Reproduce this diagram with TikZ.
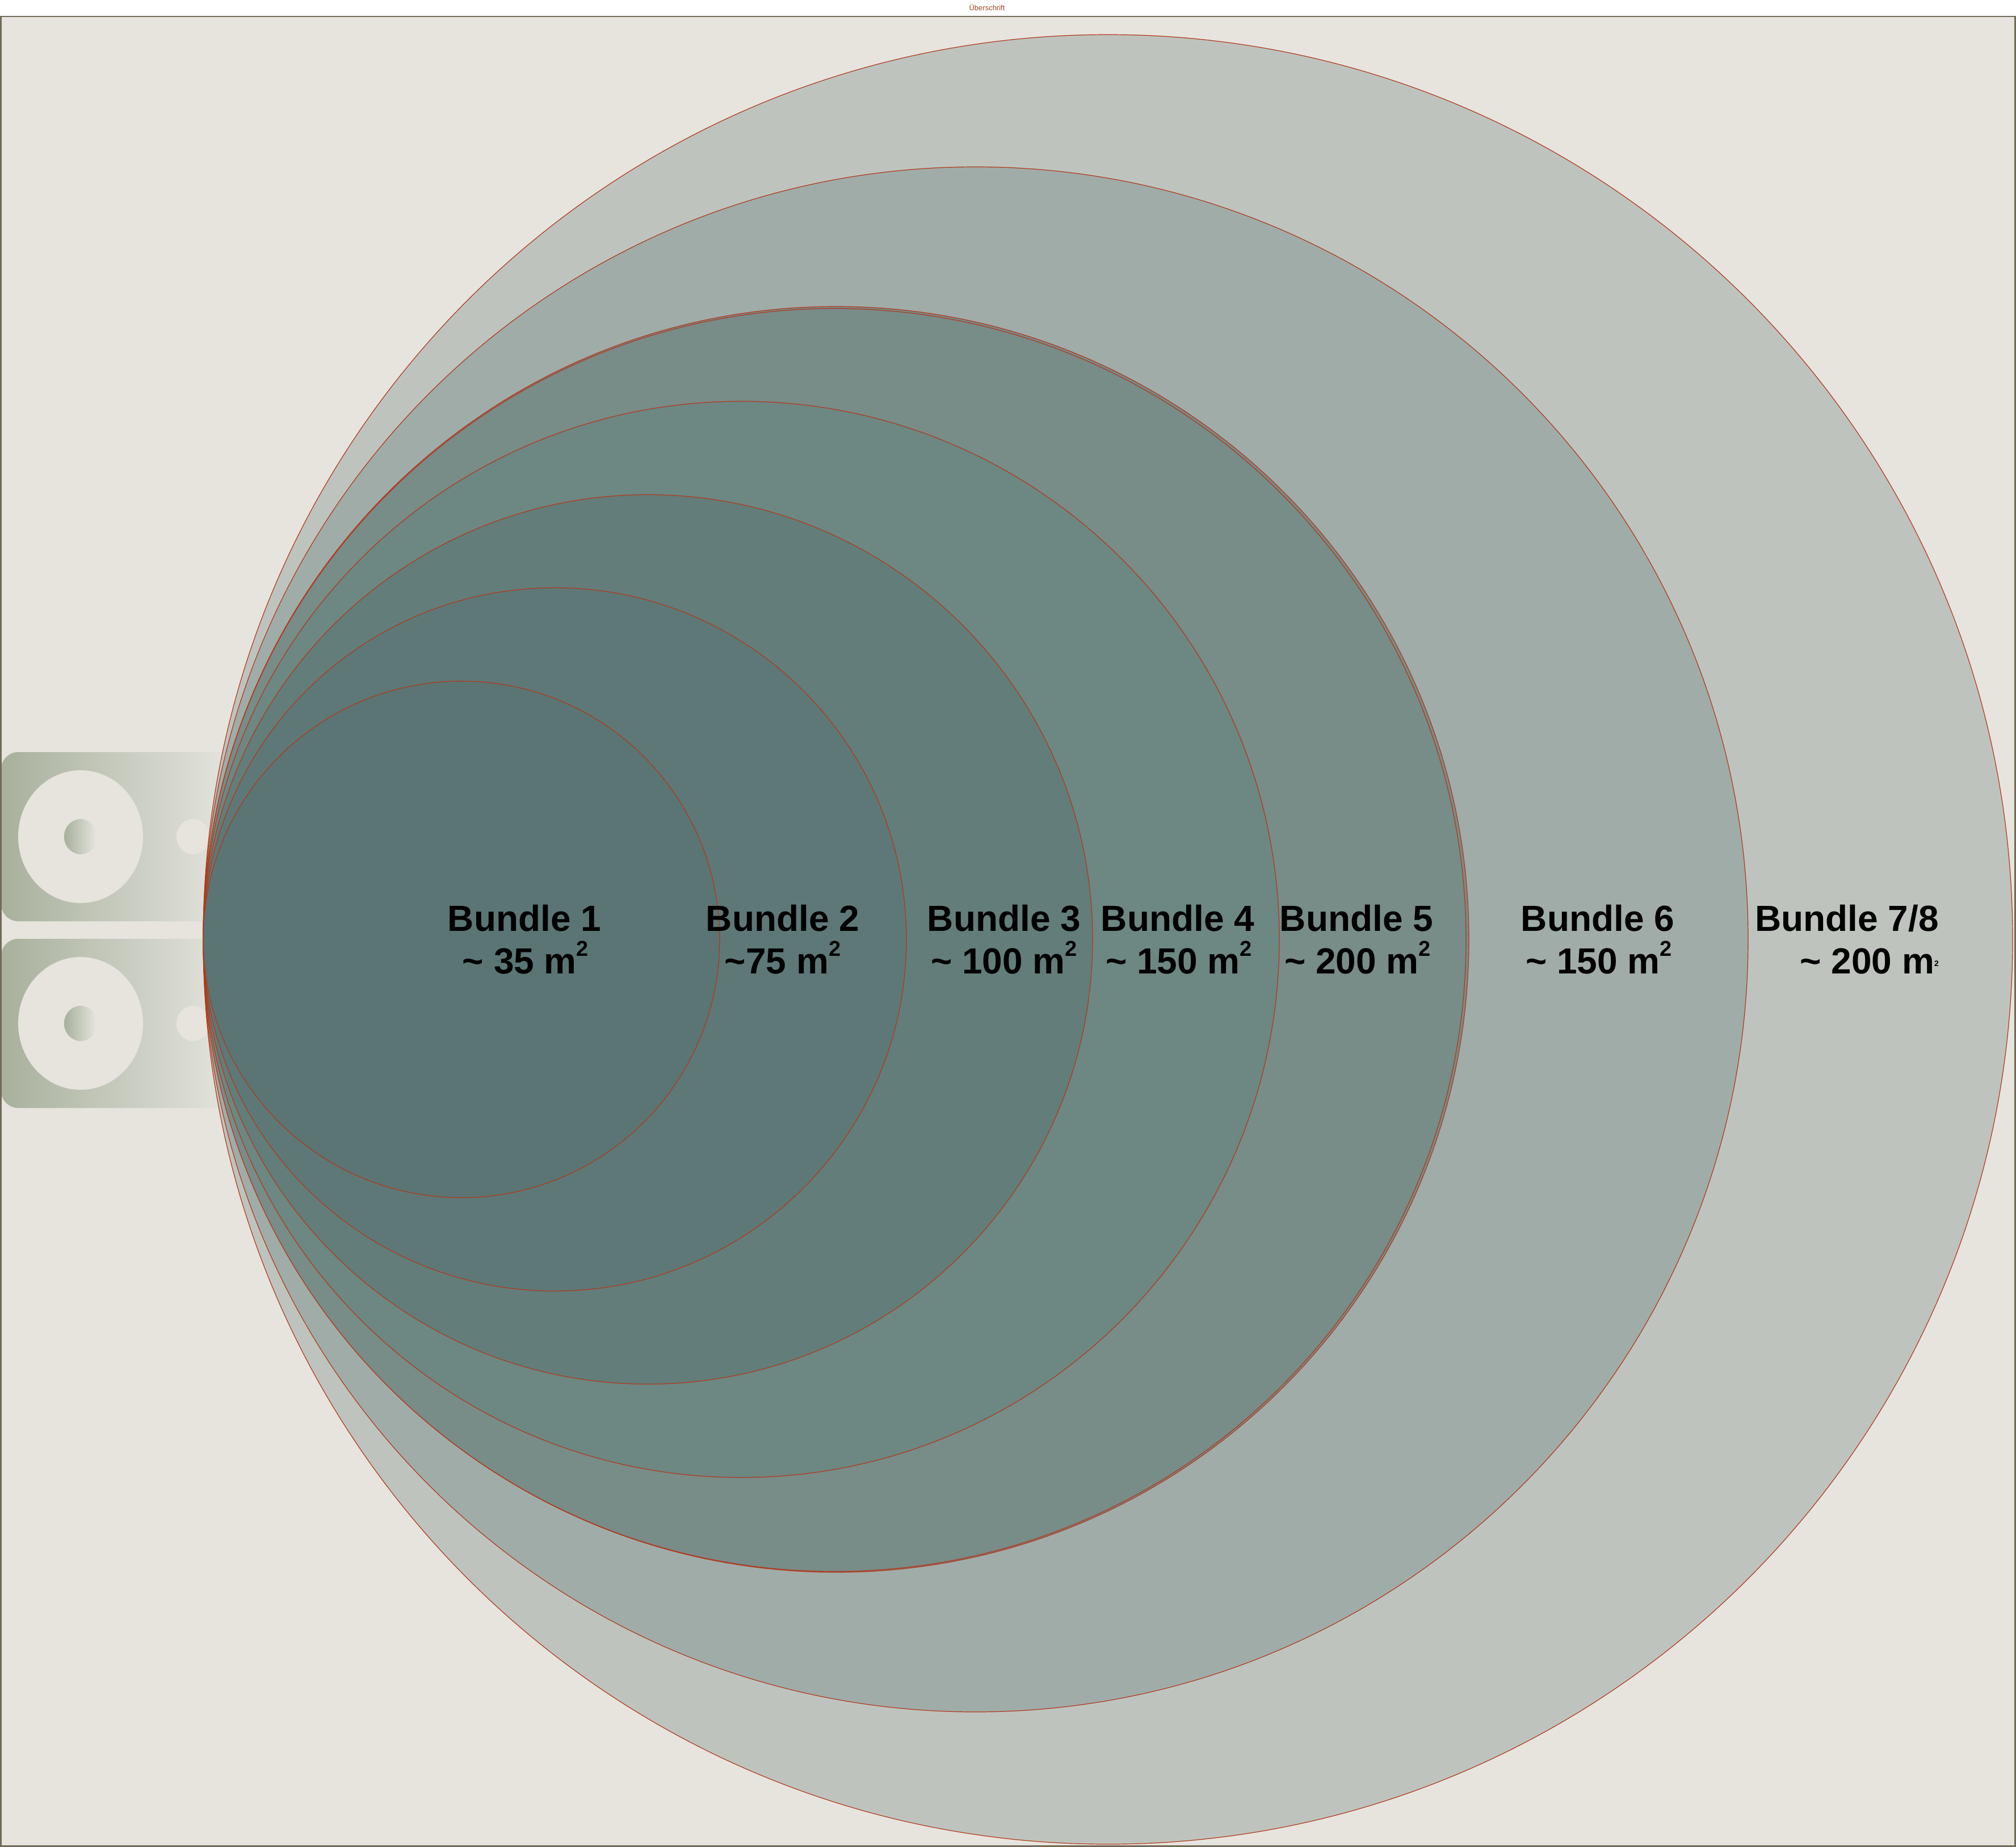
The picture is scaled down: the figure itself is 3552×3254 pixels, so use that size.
\documentclass[tikz,border=0pt]{standalone}
\usepackage{fontspec}
\setmainfont{Liberation Sans}
\definecolor{bgc}{HTML}{E6E4DD}
\definecolor{framec}{HTML}{736A58}
\definecolor{edgec}{HTML}{B0391C}
\definecolor{titlec}{HTML}{A8482A}
\definecolor{spkL}{HTML}{A8B09C}
\definecolor{spkR}{HTML}{E6E6E0}
\definecolor{ring}{HTML}{E6E4DD}
\definecolor{cA}{HTML}{5A7574}
\definecolor{cB}{HTML}{5E7877}
\definecolor{cC}{HTML}{637D7A}
\definecolor{cD}{HTML}{6D8783}
\definecolor{cE}{HTML}{788C88}
\definecolor{cF}{HTML}{A0ACA8}
\definecolor{cG}{HTML}{BEC4BD}
\newcommand{\sqm}{m\raisebox{31pt}{\fontsize{38}{38}\selectfont 2}}
\tikzset{
  zone/.style={draw=edgec, line width=1.2pt},
  lbl/.style={font=\bfseries\fontsize{64}{75}\selectfont, inner sep=0pt, anchor=base, text=black},
  lblr/.style={lbl, anchor=base east},
  spkbox/.style={left color=spkL, right color=spkR, rounded corners=30pt},
  spkring/.style={fill=ring},
  spkcone/.style={left color=spkL, right color=spkR},
  spkdot/.style={fill=ring}
}
\begin{document}
\begin{tikzpicture}[x=1pt,y=-1pt]
\useasboundingbox (0,0) rectangle (3552,3254);
\fill[white] (0,0) rectangle (3552,3254);
\fill[bgc] (1.5,29) rectangle (3550.5,3252.5);
\node[font=\fontsize{13}{15}\selectfont, text=titlec, inner sep=0pt] (title) at (1739,13) {Überschrift};
% speakers
\foreach \cy in {1474,1803} {
  \shade[spkbox] (2,\cy-149) rectangle (420,\cy+149);
  \fill[spkring] (142,\cy) ellipse [x radius=110, y radius=117];
  \shade[spkcone] (142,\cy) ellipse [x radius=29, y radius=31];
  \fill[spkdot] (340,\cy) ellipse [x radius=29, y radius=31];
}
% circles, largest first
\filldraw[zone, fill=cG] (1952,1655) circle [radius=1594];
\filldraw[zone, fill=cF] (1719,1655) circle [radius=1361];
\filldraw[zone, fill=cE] (1473,1655) circle [radius=1115];
\filldraw[zone, fill=cE] (1470.5,1656) circle [radius=1112.5];
\filldraw[zone, fill=cD] (1306,1655) circle [radius=948];
\filldraw[zone, fill=cC] (1141.5,1655) circle [radius=783.5];
\filldraw[zone, fill=cB] (977.5,1655) circle [radius=619.5];
\filldraw[zone, fill=cA] (813,1655) circle [radius=455];
% frame
\draw[framec, line width=2.5pt] (1.5,29) rectangle (3550.5,3252.5);
% labels
\node[lbl] (b1a) at (924,1640) {Bundle 1};
\node[lbl] (b1b) at (926,1715) {\textasciitilde\ 35 \sqm};
\node[lbl] (b2a) at (1379,1640) {Bundle 2};
\node[lbl] (b2b) at (1379,1715) {\textasciitilde75 \sqm};
\node[lbl] (b3a) at (1769,1640) {Bundle 3};
\node[lbl] (b3b) at (1769,1715) {\textasciitilde\ 100 \sqm};
\node[lbl] (b4a) at (2075,1640) {Bundle 4};
\node[lbl] (b4b) at (2077,1715) {\textasciitilde\ 150 \sqm};
\node[lbl] (b5a) at (2390,1640) {Bundle 5};
\node[lbl] (b5b) at (2392,1715) {\textasciitilde\ 200 \sqm};
\node[lbl] (b6a) at (2815,1640) {Bundle 6};
\node[lbl] (b6b) at (2817,1715) {\textasciitilde\ 150 \sqm};
\node[lblr] (b7a) at (3416,1640) {Bundle 7/8};
\node[lblr] (b7b) at (3416,1715) {\textasciitilde\ 200 m\raisebox{13pt}{\fontsize{14}{14}\selectfont 2}};
\end{tikzpicture}
\end{document}
